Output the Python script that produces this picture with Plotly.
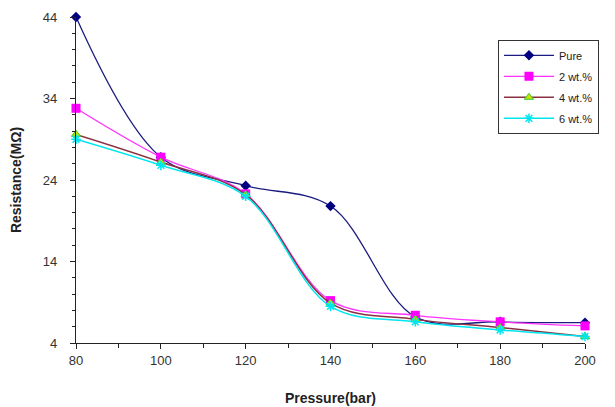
import plotly.graph_objects as go

pressure = [80, 100, 120, 140, 160, 180, 200]
pure = [44.0, 26.8, 23.3, 20.8, 7.2, 6.6, 6.5]
wt2 = [32.8, 26.8, 22.3, 9.2, 7.4, 6.6, 6.1]
wt4 = [29.6, 26.2, 22.2, 8.9, 6.9, 5.9, 4.8]
wt6 = [29.0, 25.8, 22.0, 8.5, 6.6, 5.6, 4.8]

fig = go.Figure()
fig.add_trace(go.Scatter(x=pressure, y=pure, name="Pure", mode="lines+markers", legendgroup="a",
                         line=dict(color="#1a1a80", width=1.3, shape="spline", smoothing=1.0),
                         marker=dict(symbol="diamond", size=8, color="#000080")))
fig.add_trace(go.Scatter(x=pressure, y=wt2, name="2 wt.%", mode="lines+markers", legendgroup="b",
                         line=dict(color="#ff33ff", width=1.3, shape="spline", smoothing=1.0),
                         marker=dict(symbol="square", size=9, color="#ff00ff")))
fig.add_trace(go.Scatter(x=pressure, y=wt4, name="4 wt.%", mode="lines+markers", legendgroup="c",
                         line=dict(color="#8b3040", width=1.5, shape="spline", smoothing=1.0),
                         marker=dict(symbol="triangle-up", size=8, color="#c8e000",
                                     line=dict(color="#33cc33", width=1))))
fig.add_trace(go.Scatter(x=pressure, y=wt6, name="6 wt.%", mode="lines+markers", legendgroup="d",
                         line=dict(color="#00e5ee", width=1.5, shape="spline", smoothing=1.0),
                         marker=dict(symbol="asterisk", size=8, color="#00e5ee",
                                     line=dict(color="#00e5ee", width=1.5))))
fig.update_traces(cliponaxis=False)

fig.update_layout(
    width=615, height=407,
    margin=dict(l=68, r=38, t=9, b=72),
    paper_bgcolor="white", plot_bgcolor="white",
    font=dict(family="Liberation Sans, Arial, sans-serif", color="#333333", size=13),
    showlegend=True,
    legend=dict(x=0.829, y=0.93, xanchor="left", yanchor="top",
                bordercolor="#333333", borderwidth=1, bgcolor="white",
                font=dict(size=11, color="#222222"), itemwidth=50,
                tracegroupgap=2),
    xaxis=dict(range=[80, 200], tickvals=[80, 100, 120, 140, 160, 180, 200],
               automargin=False,
               showgrid=False, zeroline=False, showline=True, linecolor="#222222",
               linewidth=1.2, ticks="outside", ticklen=5, tickcolor="#222222",
               minor=dict(dtick=10, ticks="outside", ticklen=4, tickcolor="#222222"),
               title=dict(text="<b>Pressure(bar)</b>", font=dict(size=14, color="#222222"),
                          standoff=26)),
    yaxis=dict(range=[4, 44], tickvals=[4, 14, 24, 34, 44],
               automargin=False, ticklabelstandoff=10,
               showgrid=False, zeroline=False, showline=True, linecolor="#222222",
               linewidth=1.2, ticks="outside", ticklen=5, tickcolor="#222222",
               minor=dict(dtick=2, ticks="outside", ticklen=3, tickcolor="#222222"),
               title=dict(text="<b>Resistance(MΩ)</b>", font=dict(size=14, color="#222222"),
                          standoff=20)),
)

fig.write_html("out.html")
